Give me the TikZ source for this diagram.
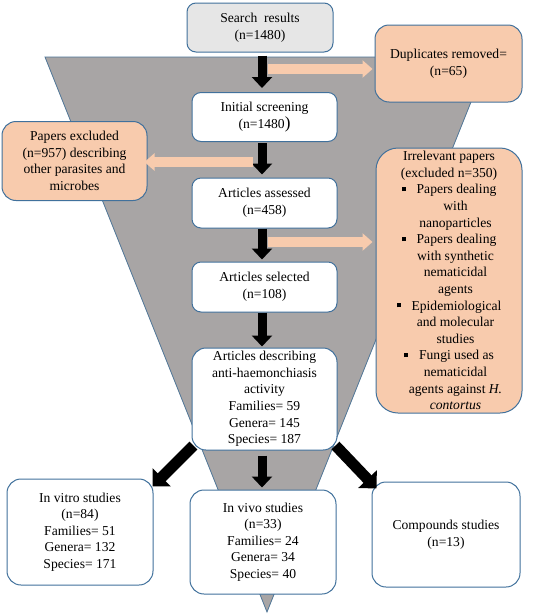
\documentclass[tikz,border=0pt]{standalone}
\usepackage{fontspec}
\setmainfont{Liberation Serif}
\usetikzlibrary{arrows.meta}
\newcommand\myfs{\fontsize{13.6}{16.6}\selectfont}
\definecolor{bordc}{HTML}{41719C}
\definecolor{peachc}{HTML}{F8CBAD}
\definecolor{funnelc}{HTML}{A8A5A5}
\definecolor{searchc}{HTML}{E6E6E6}
\tikzset{
  box/.style={draw=bordc, line width=1pt, rounded corners=9pt, align=center, inner sep=0pt, font=\myfs, fill=white},
  pbox/.style={box, fill=peachc},
  blk/.style={draw=black, line width=9pt, -{Triangle[width=20pt,length=11pt]}},
  blkd/.style={draw=black, line width=11pt, -{Triangle[width=25pt,length=13pt]}},
  peach/.style={draw=peachc, line width=10pt, -{Triangle[width=17pt,length=10pt]}},
}
\newcommand\bul{\raisebox{2.6pt}{\rule{4pt}{4pt}}\hspace{11pt}}
\newcommand\ind{\hspace*{13pt}}
\begin{document}
\begin{tikzpicture}[x=1pt,y=-1pt]
\useasboundingbox (0,0) rectangle (533,616);
% funnel
\path[fill=funnelc, draw=bordc!80!gray, line width=0.8pt] (45,57) -- (489,57) -- (267,612) -- cycle;
% nodes
\node[box, fill=searchc, minimum width=146pt, minimum height=49pt] (search) at (260,27.5) {Search\ \ results\\(n=1480)};
\node[pbox, minimum width=147pt, minimum height=77pt, rounded corners=14pt] (dup) at (448.5,63.5) {Duplicates removed=\\(n=65)};
\node[box, minimum width=145pt, minimum height=49pt] (init) at (264.5,117) {Initial screening\\[1pt](n=1480{\fontsize{17}{17}\selectfont)}};
\node[pbox, minimum width=145pt, minimum height=79pt, rounded corners=14pt] (excl) at (74.5,161) {Papers excluded\\(n=957) describing\\other parasites and\\microbes};
\node[box, minimum width=145pt, minimum height=50pt] (assess) at (264.5,203) {Articles assessed\\(n=458)};
\node[pbox, minimum width=146pt, minimum height=265pt, rounded corners=22pt] (irr) at (449,280.5) {};
\node[font=\myfs, align=center, inner sep=0pt] (irrtxt) at (irr.center) {Irrelevant papers\\(excluded n=350)\\\bul Papers dealing\\\ind with\\\ind nanoparticles\\\bul Papers dealing\\\ind with synthetic\\\ind nematicidal\\\ind agents\\\bul Epidemiological\\\ind and molecular\\\ind studies\\\bul Fungi used as\\\ind nematicidal\\\ind agents against \textit{H.}\\\ind \textit{contortus}};
\node[box, minimum width=145pt, minimum height=50pt] (select) at (264.5,287) {Articles selected\\(n=108)};
\node[box, minimum width=145pt, minimum height=102pt, rounded corners=14pt] (desc) at (264.5,399) {Articles describing\\anti-haemonchiasis\\activity\\Families= 59\\Genera= 145\\Species= 187};
\node[box, minimum width=146pt, minimum height=106pt, rounded corners=14pt] (vitro) at (80,532) {In vitro studies\\(n=84)\\Families= 51\\Genera= 132\\Species= 171};
\node[box, minimum width=146pt, minimum height=104pt, rounded corners=14pt] (vivo) at (263,542) {In vivo studies\\(n=33)\\Families= 24\\Genera= 34\\Species= 40};
\node[box, minimum width=148pt, minimum height=105pt, rounded corners=14pt] (comp) at (446,534.5) {Compounds studies\\(n=13)};
% black arrows
\draw[blk, shorten <=3pt, shorten >=4pt] ([xshift=-2.5pt]init.north |- search.south) -- ([xshift=-2.5pt]init.north);
\draw[blk, shorten <=1pt, shorten >=3pt] ([xshift=-2.5pt]init.south) -- ([xshift=-2.5pt]assess.north);
\draw[blk, shorten <=0pt, shorten >=2pt] ([xshift=-2.5pt]assess.south) -- ([xshift=-2.5pt]select.north);
\draw[blk, shorten <=0pt, shorten >=1pt] ([xshift=-2.5pt]select.south) -- ([xshift=-2.5pt]desc.north);
\draw[blk, shorten <=5pt, shorten >=2pt] ([xshift=-2.5pt]desc.south) -- ([xshift=-2.5pt]desc.south |- vivo.north);
\draw[blkd] ([xshift=2pt,yshift=5pt]desc.south west) -- ([xshift=-1pt,yshift=-8pt]vitro.north east);
\draw[blkd] ([xshift=-2pt,yshift=5pt]desc.south east) -- ([xshift=5pt,yshift=-7pt]comp.north west);
% peach arrows
\coordinate (p1) at (268,69);
\coordinate (p2) at (253,162);
\coordinate (p3) at (268,242);
\draw[peach, shorten >=2pt] (p1) -- (p1 -| dup.west);
\draw[peach, shorten >=-3pt] (p2) -- (p2 -| excl.east);
\draw[peach, shorten >=3pt] (p3) -- (p3 -| irr.west);
\end{tikzpicture}
\end{document}
